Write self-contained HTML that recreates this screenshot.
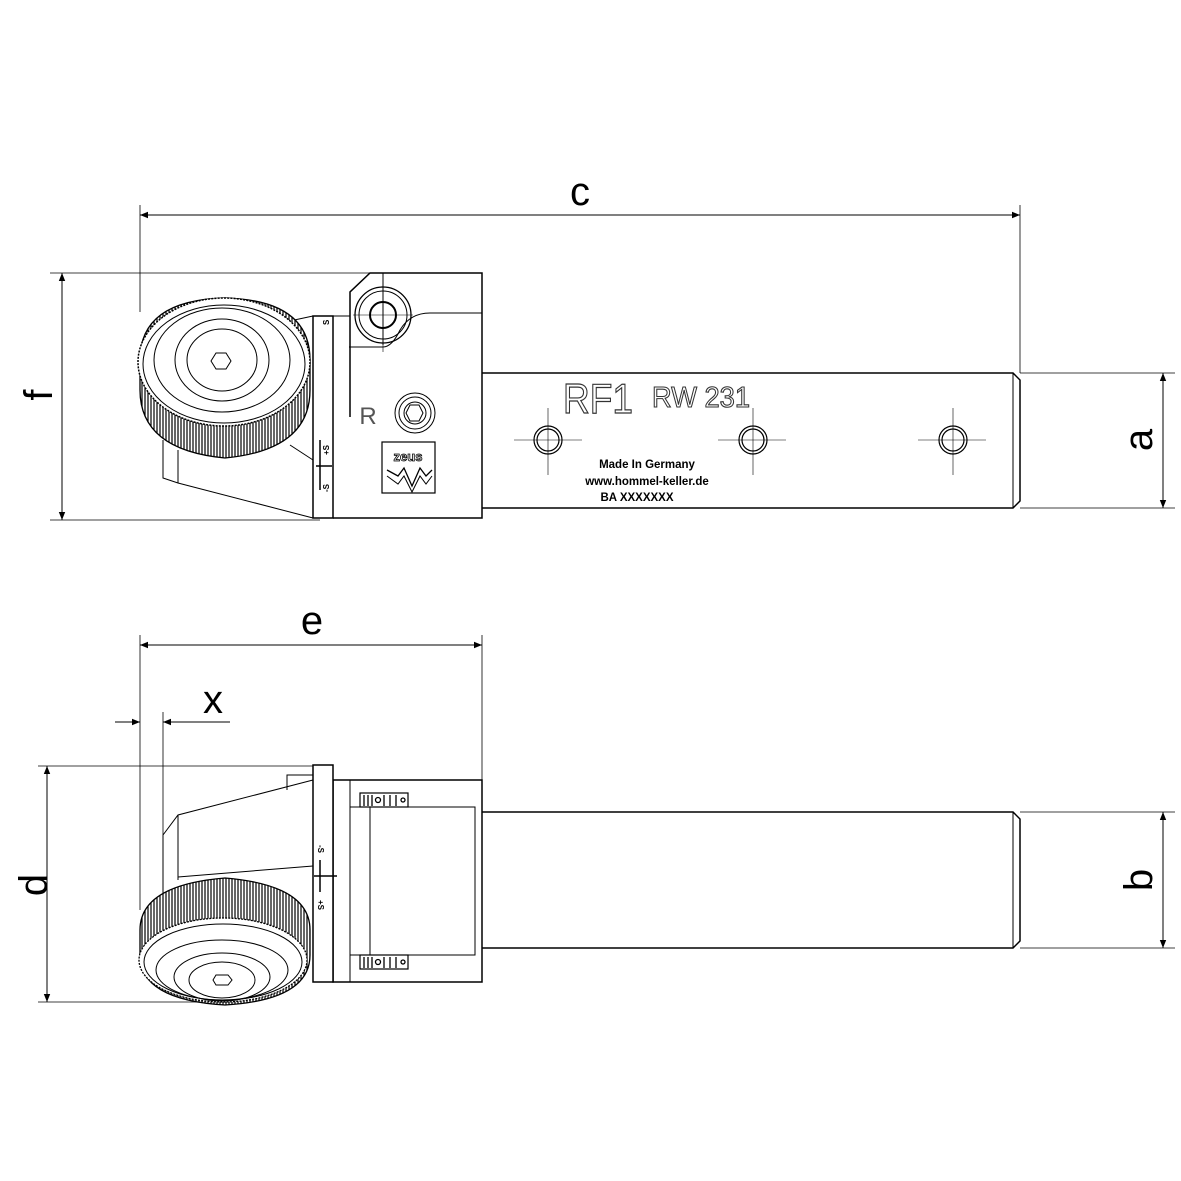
<!DOCTYPE html>
<html><head><meta charset="utf-8"><style>html,body{margin:0;padding:0;background:#fff}svg{display:block}</style></head>
<body>
<svg width="1181" height="1181" viewBox="0 0 1181 1181" xmlns="http://www.w3.org/2000/svg" font-family="Liberation Sans, sans-serif">
<defs>
<marker id="ar" viewBox="0 0 10 10" refX="10" refY="5" markerWidth="14" markerHeight="8" orient="auto-start-reverse" markerUnits="userSpaceOnUse"><path d="M0,1 L10,5 L0,9 z" fill="#000"/></marker>
<pattern id="kn" width="3" height="10" patternUnits="userSpaceOnUse"><rect width="3" height="10" fill="#fff"/><line x1="1" y1="0" x2="1" y2="10" stroke="#000" stroke-width="1.2"/></pattern>
</defs>
<g fill="none" stroke="#000" stroke-width="1">
<line x1="140" y1="205" x2="140" y2="312" stroke-width="0.8"/>
<line x1="1020" y1="205" x2="1020" y2="373" stroke-width="0.8"/>
<line x1="140" y1="215" x2="1020" y2="215" marker-start="url(#ar)" marker-end="url(#ar)"/>
<line x1="50" y1="273" x2="480" y2="273" stroke-width="0.8"/>
<line x1="50" y1="520" x2="320" y2="520" stroke-width="0.8"/>
<line x1="62" y1="273" x2="62" y2="520" marker-start="url(#ar)" marker-end="url(#ar)"/>
<line x1="1020" y1="373" x2="1175" y2="373" stroke-width="0.8"/>
<line x1="1020" y1="508" x2="1175" y2="508" stroke-width="0.8"/>
<line x1="1163" y1="373" x2="1163" y2="508" marker-start="url(#ar)" marker-end="url(#ar)"/>

<!-- TOP VIEW -->
<path d="M482,373 H1013 L1020,380 V501 L1013,508 H482" stroke-width="1.5"/>
<line x1="1013" y1="373" x2="1013" y2="508"/>
<path d="M333,518 H482 V273 H370 L350,292 V417" stroke-width="1.5"/>
<path d="M482,313 H430 Q410,313 400,330 Q392,347 383,347 H349"/>
<line x1="383" y1="273" x2="383" y2="345"/>
<path d="M313,316 H350" />
<rect x="313" y="316" width="20" height="202" stroke-width="1.5" fill="#fff"/>
<circle cx="383" cy="315" r="28" stroke-width="1.3"/>
<circle cx="383" cy="315" r="24"/>
<circle cx="383" cy="315" r="13" stroke-width="2"/>
<line x1="383" y1="285" x2="383" y2="352" stroke-width="0.6"/>
<line x1="353" y1="315" x2="413" y2="315" stroke-width="0.6"/>
<circle cx="415" cy="413" r="20"/><circle cx="415" cy="413" r="16"/><circle cx="415" cy="413" r="11"/>
<path d="M410,405 L419,405 L423,413 L419,421 L410,421 L406,413 Z"/>
<rect x="382" y="442" width="53" height="51" stroke-width="1.2"/>
<path d="M387,470 L398,476 L404,468 L412,486 L420,468 L426,476 L432,470" stroke-width="1.3"/>
<path d="M387,476 L398,484 L404,476 L412,492 L420,476 L426,484 L432,476" stroke-width="1"/>
<line x1="320" y1="440" x2="320" y2="490" stroke-width="1.5"/>
<line x1="316" y1="466" x2="332" y2="466" stroke-width="1.5"/>
<path d="M163,440 V478 L178,483 L313,518"/>
<path d="M178,450 V483"/>
<path d="M290,445 L313,460"/>
<path d="M285,322 L313,316"/>
<!-- wheel top -->
<path d="M140,360 Q140,300 225,298 Q310,300 310,360 V390 Q310,450 225,458 Q140,450 140,390 Z" fill="url(#kn)" stroke-width="1.3"/>
<ellipse cx="224" cy="362" rx="86" ry="64" fill="#fff" stroke-width="1.5" stroke-dasharray="2 1.2"/>
<ellipse cx="224" cy="364" rx="81" ry="59" fill="#fff"/>
<ellipse cx="222" cy="360" rx="68" ry="52"/>
<ellipse cx="222" cy="360" rx="47" ry="41"/>
<ellipse cx="222" cy="360" rx="35" ry="31"/>
<path d="M216,353 L226,353 L231,361 L226,369 L216,369 L211,361 Z"/>

<g stroke-width="1.2">
<circle cx="548" cy="440" r="14"/><circle cx="548" cy="440" r="11"/>
<circle cx="753" cy="440" r="14"/><circle cx="753" cy="440" r="11"/>
<circle cx="953" cy="440" r="14"/><circle cx="953" cy="440" r="11"/>
</g>
<g stroke-width="0.6">
<line x1="514" y1="440" x2="582" y2="440"/><line x1="548" y1="408" x2="548" y2="475"/>
<line x1="718" y1="440" x2="786" y2="440"/><line x1="753" y1="408" x2="753" y2="475"/>
<line x1="918" y1="440" x2="986" y2="440"/><line x1="953" y1="408" x2="953" y2="475"/>
</g>

<!-- BOTTOM VIEW dims -->
<line x1="140" y1="635" x2="140" y2="910" stroke-width="0.8"/>
<line x1="482" y1="635" x2="482" y2="780" stroke-width="0.8"/>
<line x1="140" y1="645" x2="482" y2="645" marker-start="url(#ar)" marker-end="url(#ar)"/>
<line x1="163" y1="712" x2="163" y2="840" stroke-width="0.8"/>
<line x1="115" y1="722" x2="140" y2="722" marker-end="url(#ar)"/>
<line x1="230" y1="722" x2="163" y2="722" marker-end="url(#ar)"/>
<line x1="38" y1="766" x2="333" y2="766" stroke-width="0.8"/>
<line x1="38" y1="1002" x2="230" y2="1002" stroke-width="0.8"/>
<line x1="47" y1="766" x2="47" y2="1002" marker-start="url(#ar)" marker-end="url(#ar)"/>
<line x1="1020" y1="812" x2="1175" y2="812" stroke-width="0.8"/>
<line x1="1020" y1="948" x2="1175" y2="948" stroke-width="0.8"/>
<line x1="1163" y1="812" x2="1163" y2="948" marker-start="url(#ar)" marker-end="url(#ar)"/>

<!-- BOTTOM VIEW -->
<path d="M482,812 H1013 L1020,819 V941 L1013,948 H482" stroke-width="1.5"/>
<line x1="1013" y1="812" x2="1013" y2="948"/>
<rect x="333" y="780" width="149" height="202" stroke-width="1.5"/>
<line x1="350" y1="780" x2="350" y2="982"/>
<rect x="350" y="807" width="125" height="148"/>
<line x1="370" y1="807" x2="370" y2="955"/>
<rect x="360" y="793" width="48" height="14" stroke-width="1.2"/>
<rect x="360" y="955" width="48" height="14" stroke-width="1.2"/>
<g stroke-width="1.3">
<line x1="364" y1="795" x2="364" y2="806"/><line x1="368" y1="795" x2="368" y2="806"/><line x1="372" y1="795" x2="372" y2="806"/><circle cx="378" cy="800" r="2.5"/><line x1="384" y1="795" x2="384" y2="806"/><line x1="390" y1="795" x2="390" y2="806"/><line x1="396" y1="795" x2="396" y2="806"/><circle cx="403" cy="800" r="2"/>
<line x1="364" y1="957" x2="364" y2="968"/><line x1="368" y1="957" x2="368" y2="968"/><line x1="372" y1="957" x2="372" y2="968"/><circle cx="378" cy="962" r="2.5"/><line x1="384" y1="957" x2="384" y2="968"/><line x1="390" y1="957" x2="390" y2="968"/><line x1="396" y1="957" x2="396" y2="968"/><circle cx="403" cy="962" r="2"/>
</g>
<rect x="313" y="765" width="20" height="217" stroke-width="1.5" fill="#fff"/>
<path d="M287,790 V775 H313"/>
<path d="M313,780 L178,815 L163,835 V910"/>
<line x1="178" y1="815" x2="178" y2="880"/>
<path d="M178,877 L313,866"/>
<line x1="320" y1="860" x2="320" y2="892" stroke-width="1.5"/>
<line x1="314" y1="876" x2="337" y2="876" stroke-width="1.5"/>
<path d="M140,930 Q140,885 225,878 Q310,885 310,930 V955 Q310,1000 225,1005 Q140,1000 140,955 Z" fill="url(#kn)" stroke-width="1.3"/>
<ellipse cx="223" cy="960" rx="84" ry="42" fill="#fff" stroke-width="1.3" stroke-dasharray="2 1.2"/>
<ellipse cx="223" cy="962" rx="79" ry="38" fill="#fff"/>
<ellipse cx="222" cy="970" rx="66" ry="30"/>
<ellipse cx="222" cy="977" rx="48" ry="24"/>
<ellipse cx="222" cy="980" rx="33" ry="18"/>
<path d="M216,975 L228,975 L232,980 L228,985 L216,985 L213,980 Z"/>
</g>

<g fill="#000" font-size="40">
<text x="580" y="205" text-anchor="middle">c</text>
<text x="312" y="634" text-anchor="middle">e</text>
<text x="213" y="713" text-anchor="middle">x</text>
<text transform="translate(52,395) rotate(-90)" text-anchor="middle">f</text>
<text transform="translate(47,885) rotate(-90)" text-anchor="middle">d</text>
<text transform="translate(1152,440) rotate(-90)" text-anchor="middle">a</text>
<text transform="translate(1152,880) rotate(-90)" text-anchor="middle">b</text>
</g>
<text x="368" y="424" font-size="24" fill="#555" text-anchor="middle">R</text>
<text x="598" y="413" font-size="42" fill="#fff" stroke="#333" stroke-width="1.2" text-anchor="middle" textLength="70" lengthAdjust="spacingAndGlyphs">RF1</text>
<text x="701" y="407" font-size="29" fill="#fff" stroke="#333" stroke-width="1.1" text-anchor="middle" textLength="98" lengthAdjust="spacingAndGlyphs">RW 231</text>
<text x="408" y="461" font-size="13" font-weight="bold" fill="#fff" stroke="#000" stroke-width="0.8" text-anchor="middle">zeus</text>
<g font-size="11.5" font-weight="bold" fill="#000" text-anchor="middle">
<text x="647" y="468">Made In Germany</text>
<text x="647" y="485">www.hommel-keller.de</text>
<text x="637" y="501">BA XXXXXXX</text>
</g>
<g font-size="8" font-weight="bold" fill="#000">
<text transform="translate(329,455) rotate(-90)">+S</text>
<text transform="translate(329,492) rotate(-90)">-S</text>
<text transform="translate(329,325) rotate(-90)">S</text>
<text transform="translate(318,845) rotate(90)">-S</text>
<text transform="translate(318,900) rotate(90)">+S</text>
</g>
</svg>
</body></html>
